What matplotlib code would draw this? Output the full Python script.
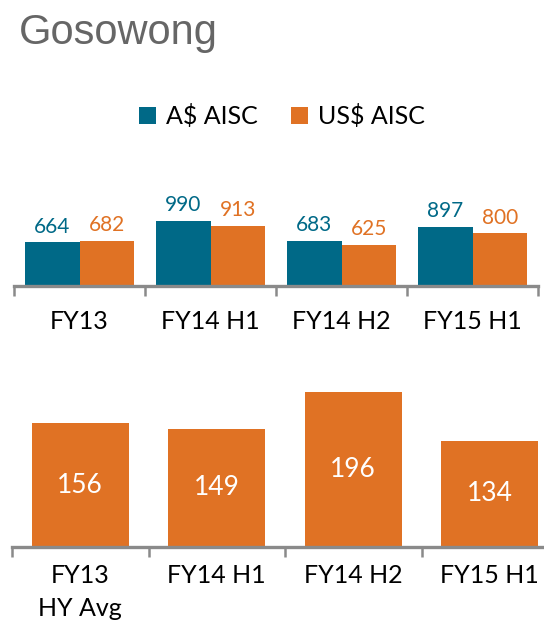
import numpy as np
import matplotlib
matplotlib.use("Agg")
import matplotlib.pyplot as plt

# data
periods = ["FY13", "FY14 H1", "FY14 H2", "FY15 H1"]
aud_aisc = [664, 990, 683, 897]
usd_aisc = [682, 913, 625, 800]
cost_periods = ["FY13\nHY Avg", "FY14 H1", "FY14 H2", "FY15 H1"]
cost_values = [156, 149, 196, 134]

TEAL = "#006987"
ORANGE = "#E07224"
AXIS_GREY = "#8a8a8a"
FONT = ["Lato", "DejaVu Sans"]

plt.rcParams["font.family"] = FONT

W, H = 544, 636
fig = plt.figure(figsize=(W / 100, H / 100), dpi=100)


def px_axes(left, right, base, top):
    # axes placed in pixel coords of the reference (y measured from top)
    return fig.add_axes([left / W, 1 - base / H, (right - left) / W, (base - top) / H])


def style_axis(ax, n, pad):
    for side in ["top", "right", "left"]:
        ax.spines[side].set_visible(False)
    ax.spines["bottom"].set_color(AXIS_GREY)
    ax.spines["bottom"].set_linewidth(2.4)
    ax.set_yticks([])
    ax.set_xlim(-0.5, n - 0.5)
    ax.set_xticks(np.arange(n))
    ax.set_xticks(np.arange(n + 1) - 0.5, minor=True)
    ax.tick_params(axis="x", which="major", length=0, pad=pad, labelsize=18)
    ax.tick_params(axis="x", which="minor", length=7.5, width=1.8, color=AXIS_GREY)


# title
fig.text(19 / W, 1 - 44 / H, "Gosowong", fontsize=30, color="#666666",
         family=["Liberation Sans", "DejaVu Sans"], va="baseline", ha="left")

# top chart: AISC per oz
ax1 = px_axes(14, 538, 286, 286 - 1200 * 0.0661)
x = np.arange(len(periods))
w = 0.415
b1 = ax1.bar(x - w / 2, aud_aisc, w, color=TEAL, label="A$ AISC")
b2 = ax1.bar(x + w / 2, usd_aisc, w, color=ORANGE, label="US$ AISC")
ax1.set_ylim(0, 1200)
style_axis(ax1, len(periods), 17)
ax1.set_xticklabels(periods)
for bars, col in [(b1, TEAL), (b2, ORANGE)]:
    for r in bars:
        ax1.annotate(f"{r.get_height():.0f}", (r.get_x() + r.get_width() / 2, r.get_height()),
                     xytext=(0, 4), textcoords="offset points", ha="center", va="bottom",
                     fontsize=15, color=col)

fig.legend(handles=[b1, b2], loc="center", bbox_to_anchor=(282 / W, 1 - 116 / H),
           ncol=2, frameon=False, fontsize=18, handlelength=0.7, handleheight=0.7,
           handletextpad=0.4, columnspacing=1.3, borderaxespad=0)

# bottom chart: cost values
ax2 = px_axes(12, 558, 547, 547 - 220 * 0.792)
x2 = np.arange(len(cost_periods))
b3 = ax2.bar(x2, cost_values, 0.71, color=ORANGE)
ax2.set_ylim(0, 220)
style_axis(ax2, len(cost_periods), 12)
ax2.set_xticklabels(cost_periods, linespacing=1.55)
for r in b3:
    ax2.text(r.get_x() + r.get_width() / 2, r.get_height() / 2, f"{r.get_height():.0f}",
             ha="center", va="center", fontsize=19, color="white")

fig.savefig("out.png", dpi=100)
